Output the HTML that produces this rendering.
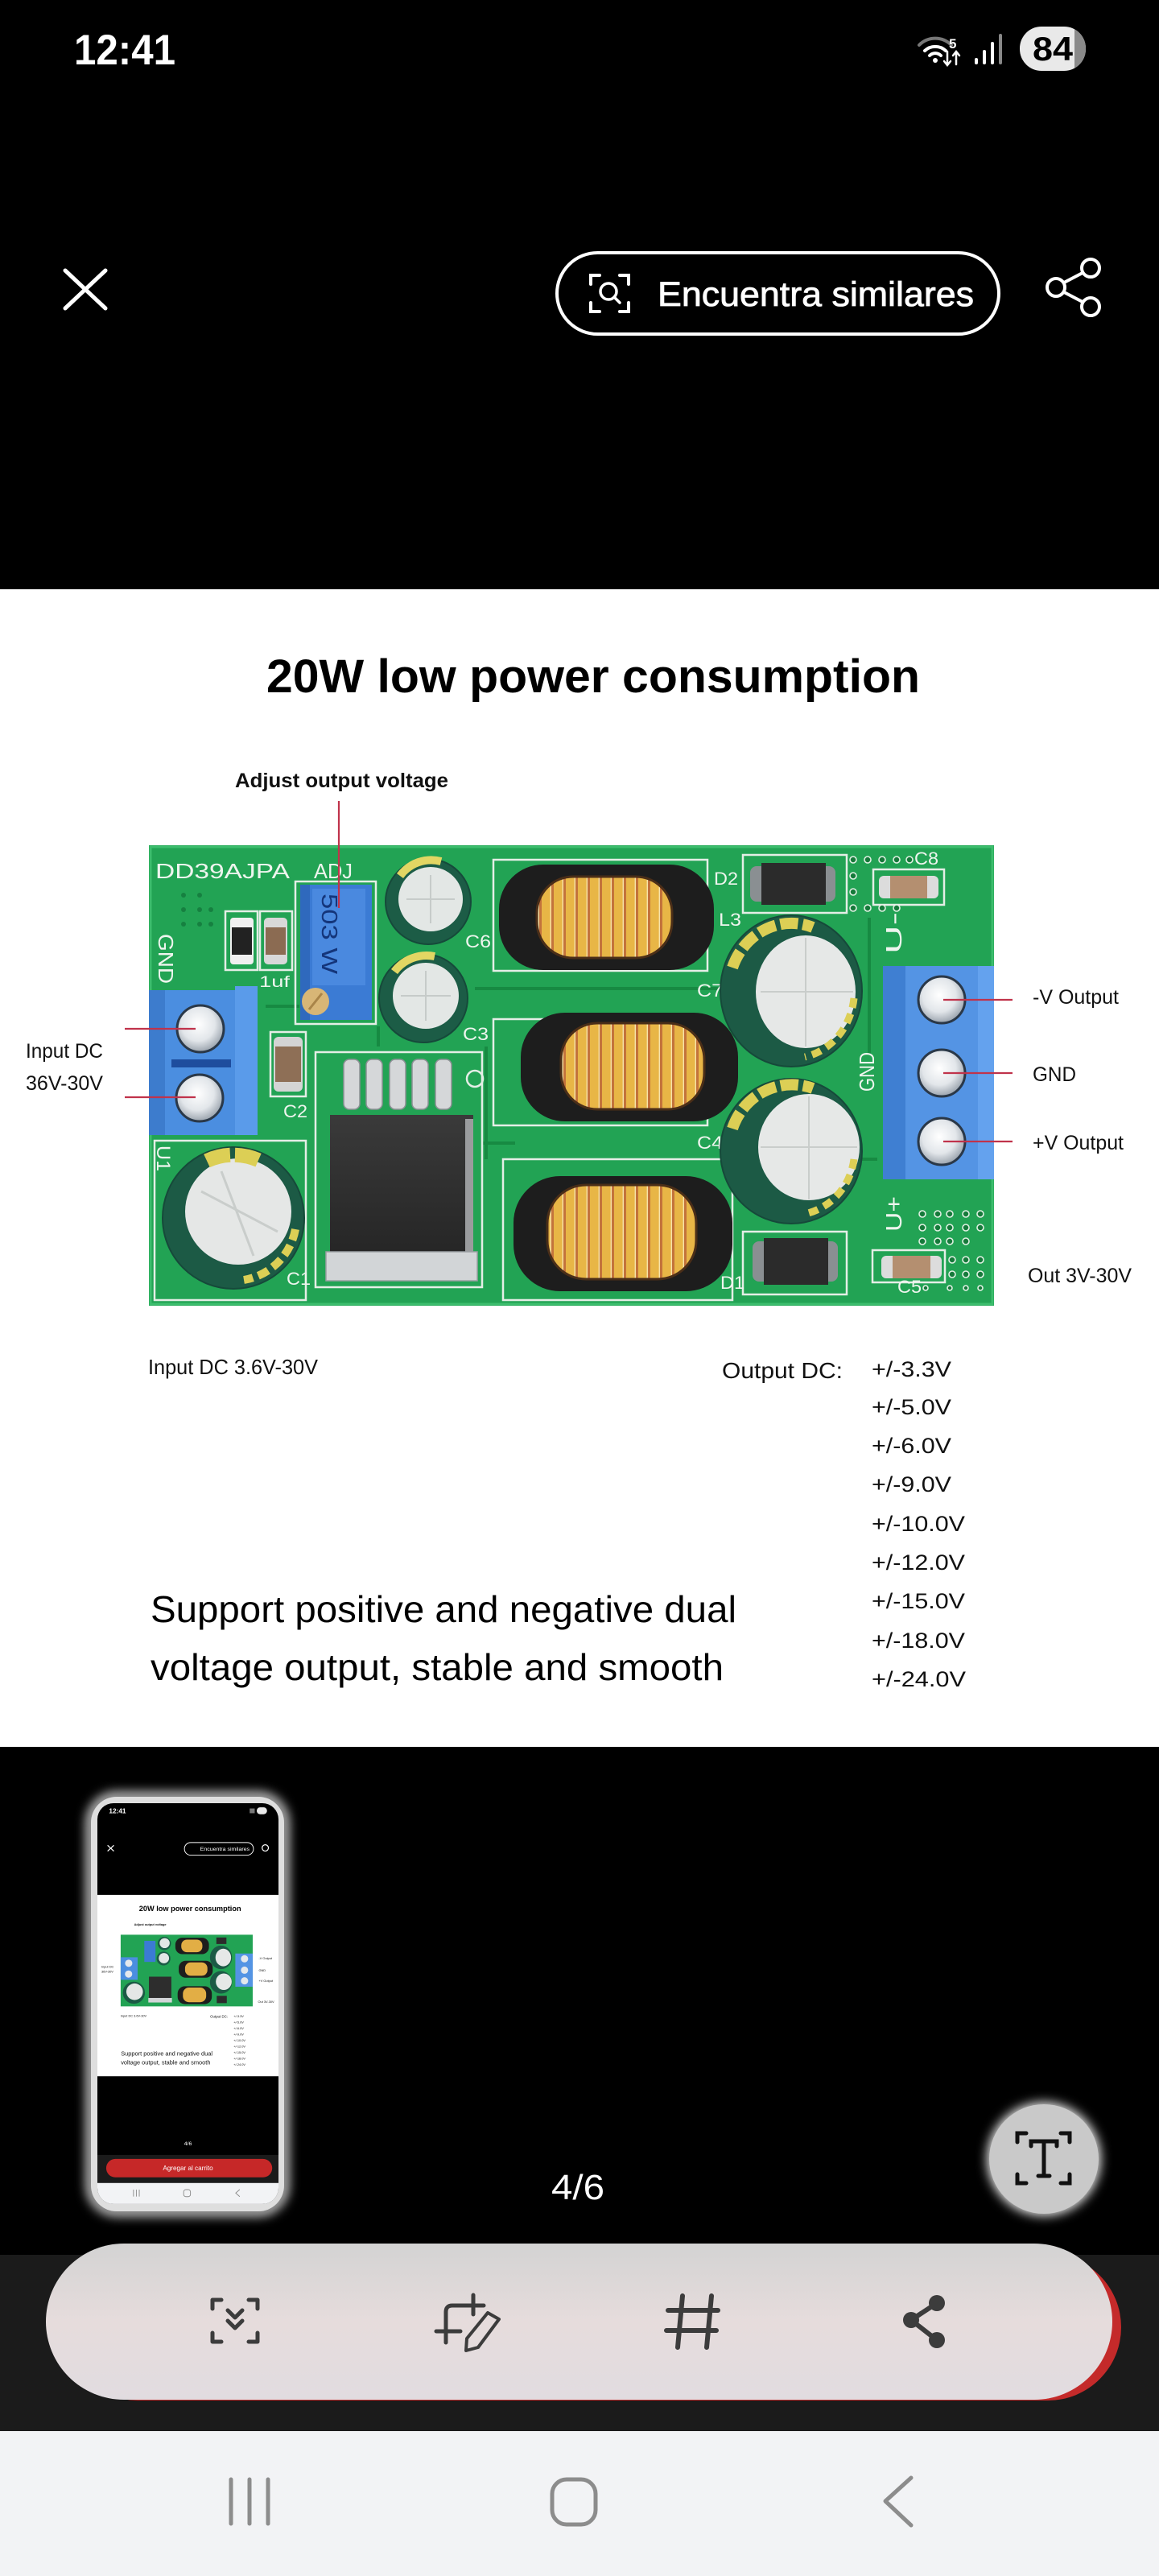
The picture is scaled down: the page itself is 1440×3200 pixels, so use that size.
<!DOCTYPE html>
<html>
<head>
<meta charset="utf-8">
<style>
html,body{margin:0;padding:0;background:#000;}
body{width:1440px;height:3200px;overflow:hidden;}
svg{display:block;}
text{font-family:"Liberation Sans",Arial,sans-serif;}
</style>
</head>
<body>
<svg width="1440" height="3200" viewBox="0 0 1440 3200" xmlns="http://www.w3.org/2000/svg">
<defs>
  <pattern id="coil" width="15" height="20" patternUnits="userSpaceOnUse">
    <rect width="15" height="20" fill="#e8b646"/>
    <rect x="10" width="3" height="20" fill="#c3733b"/>
    <rect x="8.6" width="1.4" height="20" fill="#f7e2a9"/>
  </pattern>
  <radialGradient id="screw" cx="45%" cy="40%" r="60%">
    <stop offset="0" stop-color="#ffffff"/>
    <stop offset="0.6" stop-color="#e2e6ea"/>
    <stop offset="1" stop-color="#9aa3ad"/>
  </radialGradient>
  <linearGradient id="pill" x1="0" y1="0" x2="0" y2="1">
    <stop offset="0" stop-color="#d3d3d3"/>
    <stop offset="0.5" stop-color="#e6dcdc"/>
    <stop offset="1" stop-color="#e1dce0"/>
  </linearGradient>
  <linearGradient id="icb" x1="0" y1="0" x2="0" y2="1">
    <stop offset="0" stop-color="#3a3a3a"/>
    <stop offset="1" stop-color="#262626"/>
  </linearGradient>
  <filter id="glow" x="-30%" y="-30%" width="160%" height="160%">
    <feGaussianBlur stdDeviation="7"/>
  </filter>
  <clipPath id="batclip"><rect x="1267" y="33" width="82" height="55" rx="27"/></clipPath>
  <clipPath id="thumbclip"><rect x="121" y="2240" width="225" height="498" rx="20"/></clipPath>
</defs>

<!-- backgrounds -->
<rect width="1440" height="3200" fill="#000"/>
<rect x="0" y="732" width="1440" height="1438" fill="#fff"/>

<!-- status bar -->
<text x="92" y="80" font-size="53" font-weight="bold" fill="#fff" textLength="126" lengthAdjust="spacingAndGlyphs">12:41</text>
<g fill="none" stroke-linecap="round">
  <path d="M1142,56 A28,28 0 0,1 1182,56" stroke="#777" stroke-width="4"/>
  <path d="M1149,63 A19,19 0 0,1 1175,63" stroke="#fff" stroke-width="4"/>
  <path d="M1155,69 A10,10 0 0,1 1169,69" stroke="#fff" stroke-width="4"/>
  <path d="M1177,64 V80 M1173,76 L1177,81 L1181,76" stroke="#fff" stroke-width="2.5"/>
  <path d="M1188,80 V65 M1184,69 L1188,64 L1192,69" stroke="#fff" stroke-width="2.5"/>
</g>
<circle cx="1162" cy="75" r="3" fill="#fff"/>
<text x="1179" y="60" font-size="17" font-weight="bold" fill="#fff">5</text>
<rect x="1211" y="72" width="4" height="8" rx="2" fill="#fff"/>
<rect x="1221" y="62" width="4" height="18" rx="2" fill="#fff"/>
<rect x="1231" y="52" width="4" height="28" rx="2" fill="#fff"/>
<rect x="1241" y="42" width="4" height="38" rx="2" fill="#888"/>
<rect x="1267" y="33" width="82" height="55" rx="27" fill="#e9e9e9"/>
<rect x="1335" y="33" width="20" height="55" fill="#8a8a8a" clip-path="url(#batclip)"/>
<text x="1283" y="75" font-size="42" font-weight="bold" fill="#000" textLength="50" lengthAdjust="spacingAndGlyphs">84</text>

<!-- header row -->
<path d="M81,336 L131,383 M131,336 L81,383" stroke="#fff" stroke-width="5" stroke-linecap="round"/>
<rect x="692" y="314" width="549" height="101" rx="50.5" fill="none" stroke="#fff" stroke-width="4"/>
<g fill="none" stroke="#fff" stroke-width="4" stroke-linecap="round">
  <path d="M734,353 V342 H745 M770,342 H781 V353 M781,376 V387 H770 M745,387 H734 V376"/>
  <circle cx="756" cy="362" r="10" stroke-width="3.5"/>
  <path d="M763,369 L770,376" stroke-width="3.5"/>
</g>
<text x="817" y="380" font-size="43" fill="#fff" stroke="#fff" stroke-width="0.8" textLength="393" lengthAdjust="spacingAndGlyphs">Encuentra similares</text>
<g fill="none" stroke="#fff" stroke-width="4">
  <circle cx="1355" cy="333" r="11"/>
  <circle cx="1312" cy="357" r="11"/>
  <circle cx="1355" cy="381" r="11"/>
  <path d="M1345,339 L1322,351 M1322,363 L1345,375"/>
</g>

<!-- product image content -->
<text x="331" y="860" font-size="58" font-weight="bold" fill="#000" textLength="812" lengthAdjust="spacingAndGlyphs">20W low power consumption</text>
<text x="292" y="978" font-size="25" font-weight="bold" fill="#111" textLength="265" lengthAdjust="spacingAndGlyphs">Adjust output voltage</text>

<!-- PCB -->
<g>
  <rect x="185" y="1050" width="1050" height="572" fill="#22a354"/>
  <rect x="187" y="1052" width="1046" height="568" fill="none" stroke="#3cbd6d" stroke-width="3"/>
  <g stroke="#178a42" stroke-width="4" fill="none">
    <path d="M590,1228 H900"/>
    <path d="M604,1300 V1440"/>
    <path d="M905,1440 H1090"/>
    <path d="M330,1250 H372"/>
    <path d="M600,1420 H640"/>
    <path d="M1080,1140 V1310"/>
    <path d="M470,1275 V1300"/>
  </g>
  <!-- silkscreen outlines -->
  <g stroke="#e4eee6" stroke-width="2.5" fill="none">
    <rect x="613" y="1068" width="266" height="138"/>
    <rect x="613" y="1266" width="266" height="132"/>
    <rect x="625" y="1440" width="285" height="175"/>
    <rect x="392" y="1307" width="207" height="292"/>
    <rect x="923" y="1062" width="129" height="72"/>
    <rect x="923" y="1530" width="129" height="78"/>
    <rect x="1085" y="1080" width="88" height="44"/>
    <rect x="1084" y="1553" width="90" height="40"/>
    <rect x="336" y="1282" width="44" height="80"/>
    <rect x="192" y="1417" width="188" height="198"/>
    <rect x="280" y="1132" width="40" height="73"/>
    <rect x="323" y="1132" width="40" height="73"/>
    <rect x="367" y="1095" width="100" height="177"/>
  </g>
  <!-- vias left -->
  <g fill="#168040">
    <circle cx="228" cy="1112" r="3"/><circle cx="248" cy="1112" r="3"/>
    <circle cx="228" cy="1130" r="3"/><circle cx="248" cy="1130" r="3"/><circle cx="262" cy="1130" r="3"/>
    <circle cx="228" cy="1148" r="3"/><circle cx="248" cy="1148" r="3"/><circle cx="262" cy="1148" r="3"/>
  </g>
  <!-- hole grids -->
  <g fill="#157a3a" stroke="#e2f0e4" stroke-width="1.6">
    <circle cx="1060" cy="1068" r="4"/><circle cx="1078" cy="1068" r="4"/><circle cx="1096" cy="1068" r="4"/><circle cx="1114" cy="1068" r="4"/><circle cx="1130" cy="1068" r="4"/>
    <circle cx="1060" cy="1088" r="4"/><circle cx="1060" cy="1108" r="4"/><circle cx="1060" cy="1128" r="4"/>
    <circle cx="1078" cy="1128" r="4"/><circle cx="1096" cy="1128" r="4"/><circle cx="1114" cy="1128" r="4"/>
    <circle cx="1146" cy="1508" r="4"/><circle cx="1165" cy="1508" r="4"/><circle cx="1180" cy="1508" r="4"/><circle cx="1200" cy="1508" r="4"/><circle cx="1218" cy="1508" r="4"/>
    <circle cx="1146" cy="1525" r="4"/><circle cx="1165" cy="1525" r="4"/><circle cx="1180" cy="1525" r="4"/><circle cx="1200" cy="1525" r="4"/><circle cx="1218" cy="1525" r="4"/>
    <circle cx="1146" cy="1542" r="4"/><circle cx="1165" cy="1542" r="4"/><circle cx="1180" cy="1542" r="4"/><circle cx="1200" cy="1542" r="4"/>
    <circle cx="1183" cy="1565" r="4"/><circle cx="1200" cy="1565" r="4"/><circle cx="1218" cy="1565" r="4"/>
    <circle cx="1183" cy="1583" r="4"/><circle cx="1200" cy="1583" r="4"/><circle cx="1218" cy="1583" r="4"/>
    <circle cx="1150" cy="1600" r="3"/><circle cx="1180" cy="1600" r="3"/><circle cx="1200" cy="1600" r="3"/><circle cx="1218" cy="1600" r="3"/>
  </g>
  <!-- silkscreen text -->
  <g fill="#eef5ee" font-size="26">
    <text x="193" y="1091" textLength="167" lengthAdjust="spacingAndGlyphs">DD39AJPA</text>
    <text x="390" y="1091" textLength="48" lengthAdjust="spacingAndGlyphs">ADJ</text>
    <text x="322" y="1226" font-size="19" textLength="38" lengthAdjust="spacingAndGlyphs">1uf</text>
    <text x="578" y="1177" font-size="22" textLength="32" lengthAdjust="spacingAndGlyphs">C6</text>
    <text x="575" y="1292" font-size="22" textLength="32" lengthAdjust="spacingAndGlyphs">C3</text>
    <text x="352" y="1388" font-size="22" textLength="30" lengthAdjust="spacingAndGlyphs">C2</text>
    <text x="356" y="1596" font-size="22" textLength="30" lengthAdjust="spacingAndGlyphs">C1</text>
    <text x="887" y="1099" font-size="22" textLength="30" lengthAdjust="spacingAndGlyphs">D2</text>
    <text x="893" y="1150" font-size="22" textLength="28" lengthAdjust="spacingAndGlyphs">L3</text>
    <text x="866" y="1238" font-size="22" textLength="32" lengthAdjust="spacingAndGlyphs">C7</text>
    <text x="866" y="1427" font-size="22" textLength="32" lengthAdjust="spacingAndGlyphs">C4</text>
    <text x="895" y="1601" font-size="22" textLength="30" lengthAdjust="spacingAndGlyphs">D1</text>
    <text x="1115" y="1606" font-size="22" textLength="30" lengthAdjust="spacingAndGlyphs">C5</text>
    <text x="1136" y="1074" font-size="22" textLength="30" lengthAdjust="spacingAndGlyphs">C8</text>
    <text transform="translate(197,1160) rotate(90)" font-size="26" textLength="62" lengthAdjust="spacingAndGlyphs">GND</text>
    <text transform="translate(195,1423) rotate(90)" font-size="24" textLength="32" lengthAdjust="spacingAndGlyphs">U1</text>
    <text transform="translate(1086,1356) rotate(-90)" font-size="26" textLength="49" lengthAdjust="spacingAndGlyphs">GND</text>
    <text transform="translate(1120,1185) rotate(-90)" font-size="28" textLength="52" lengthAdjust="spacingAndGlyphs">U-</text>
    <text transform="translate(1120,1530) rotate(-90)" font-size="28" textLength="44" lengthAdjust="spacingAndGlyphs">U+</text>
  </g>

  <!-- left terminal block -->
  <rect x="185" y="1230" width="135" height="180" fill="#4b8ee0"/>
  <rect x="185" y="1230" width="20" height="180" fill="#3d7ccd"/>
  <rect x="292" y="1225" width="28" height="185" fill="#5a9bea"/>
  <rect x="213" y="1316" width="74" height="10" fill="#1e4d9e"/>
  <circle cx="249" cy="1278" r="29" fill="url(#screw)" stroke="#2a3848" stroke-width="3"/>
  <circle cx="248" cy="1364" r="29" fill="url(#screw)" stroke="#2a3848" stroke-width="3"/>

  <!-- right terminal block -->
  <rect x="1097" y="1200" width="138" height="265" fill="#5494e4"/>
  <rect x="1097" y="1200" width="28" height="265" fill="#3f7fd2"/>
  <rect x="1215" y="1200" width="20" height="265" fill="#64a2ee"/>
  <circle cx="1170" cy="1242" r="29" fill="url(#screw)" stroke="#2a3848" stroke-width="3"/>
  <circle cx="1170" cy="1333" r="29" fill="url(#screw)" stroke="#2a3848" stroke-width="3"/>
  <circle cx="1170" cy="1418" r="29" fill="url(#screw)" stroke="#2a3848" stroke-width="3"/>

  <!-- potentiometer -->
  <rect x="373" y="1099" width="89" height="168" fill="#3b7bd4"/>
  <rect x="373" y="1099" width="12" height="168" fill="#2f69bd"/>
  <rect x="388" y="1104" width="66" height="120" fill="#4a89df"/>
  <text transform="translate(400,1110) rotate(90)" font-size="28" fill="#14357a" textLength="100" lengthAdjust="spacingAndGlyphs">503 W</text>
  <circle cx="392" cy="1244" r="17" fill="#d8b676"/>
  <path d="M384,1254 L400,1234" stroke="#a98448" stroke-width="3"/>

  <!-- small SMDs -->
  <rect x="286" y="1140" width="29" height="58" rx="4" fill="#f0f0f0"/>
  <rect x="288" y="1152" width="25" height="34" fill="#222"/>
  <rect x="328" y="1140" width="29" height="58" rx="5" fill="#d8d8d8"/>
  <rect x="330" y="1152" width="25" height="34" fill="#8b6b52"/>
  <rect x="340" y="1288" width="36" height="68" rx="6" fill="#d4d4d4"/>
  <rect x="342" y="1300" width="32" height="44" fill="#8e6f56"/>

  <!-- caps C6 C3 -->
  <circle cx="532" cy="1120" r="53" fill="#1c5c46" stroke="#16493a" stroke-width="2"/>
  <circle cx="535" cy="1117" r="40" fill="#e3e7e5"/>
  <path d="M505,1117 H565 M535,1087 V1147" stroke="#c6cbc9" stroke-width="2"/>
  <path d="M497,1088 A48,48 0 0,1 548,1070" stroke="#e2d663" stroke-width="10" fill="none"/>
  <circle cx="526" cy="1240" r="55" fill="#1c5c46" stroke="#16493a" stroke-width="2"/>
  <circle cx="529" cy="1237" r="41" fill="#e3e7e5"/>
  <path d="M498,1237 H560 M529,1206 V1268" stroke="#c6cbc9" stroke-width="2"/>
  <path d="M490,1207 A50,50 0 0,1 540,1188" stroke="#e2d663" stroke-width="10" fill="none"/>

  <!-- C1 -->
  <circle cx="290" cy="1513" r="88" fill="#1c5a45" stroke="#16493a" stroke-width="2"/>
  <circle cx="296" cy="1505" r="66" fill="#e5e7e6"/>
  <path d="M250,1480 L345,1530 M275,1455 L315,1560" stroke="#c9cdcb" stroke-width="3"/>
  <path d="M257,1442 A78,78 0 0,1 323,1442" stroke="#dccf55" stroke-width="18" fill="none" stroke-dasharray="30 6"/>
  <path d="M367,1527 A78,78 0 0,1 303,1590" stroke="#dccf55" stroke-width="10" fill="none" stroke-dasharray="14 7"/>

  <!-- inductors -->
  <rect x="620" y="1074" width="267" height="131" rx="55" fill="#1d1d1d"/>
  <rect x="667" y="1089" width="168" height="101" rx="45" fill="url(#coil)" stroke="#4a2e18" stroke-width="3"/>
  <rect x="647" y="1258" width="270" height="135" rx="55" fill="#1d1d1d"/>
  <rect x="697" y="1271" width="178" height="107" rx="45" fill="url(#coil)" stroke="#4a2e18" stroke-width="3"/>
  <rect x="638" y="1461" width="272" height="143" rx="58" fill="#1d1d1d"/>
  <rect x="680" y="1472" width="185" height="117" rx="48" fill="url(#coil)" stroke="#4a2e18" stroke-width="3"/>

  <!-- IC U1 -->
  <g fill="#d5d7d9" stroke="#8c9094" stroke-width="1.5">
    <rect x="427" y="1316" width="20" height="62" rx="7"/>
    <rect x="455" y="1316" width="20" height="62" rx="7"/>
    <rect x="484" y="1316" width="20" height="62" rx="7"/>
    <rect x="512" y="1316" width="20" height="62" rx="7"/>
    <rect x="541" y="1316" width="20" height="62" rx="7"/>
  </g>
  <rect x="410" y="1385" width="178" height="172" fill="url(#icb)"/>
  <rect x="578" y="1390" width="10" height="165" fill="#9a9c9e"/>
  <rect x="405" y="1555" width="188" height="36" fill="#d2d5d7" stroke="#9a9ea2" stroke-width="1.5"/>
  <circle cx="590" cy="1340" r="10" fill="none" stroke="#e4eee6" stroke-width="2.5"/>

  <!-- C7, C4 -->
  <ellipse cx="983" cy="1231" rx="88" ry="94" fill="#1c5a45" stroke="#16493a" stroke-width="2"/>
  <ellipse cx="1001" cy="1232" rx="62" ry="70" fill="#e6e8e7"/>
  <path d="M945,1232 H1060 M1001,1165 V1300" stroke="#c9cdcb" stroke-width="2"/>
  <path d="M910,1202 A78,84 0 0,1 1010,1152" stroke="#dccf55" stroke-width="14" fill="none" stroke-dasharray="22 6"/>
  <path d="M1061,1240 A78,84 0 0,1 1000,1313" stroke="#dccf55" stroke-width="9" fill="none" stroke-dasharray="12 8"/>
  <ellipse cx="983" cy="1430" rx="88" ry="90" fill="#1c5a45" stroke="#16493a" stroke-width="2"/>
  <ellipse cx="1005" cy="1425" rx="63" ry="66" fill="#e6e8e7"/>
  <path d="M945,1425 H1065 M1005,1362 V1490" stroke="#c9cdcb" stroke-width="2"/>
  <path d="M910,1402 A78,80 0 0,1 1010,1352" stroke="#dccf55" stroke-width="14" fill="none" stroke-dasharray="22 6"/>
  <path d="M1061,1440 A78,80 0 0,1 1000,1508" stroke="#dccf55" stroke-width="9" fill="none" stroke-dasharray="12 8"/>

  <!-- diodes -->
  <rect x="932" y="1076" width="106" height="44" rx="8" fill="#8a8f92"/>
  <rect x="946" y="1072" width="80" height="52" fill="#2b2b2b"/>
  <rect x="935" y="1542" width="106" height="50" rx="8" fill="#8a8f92"/>
  <rect x="949" y="1538" width="80" height="58" fill="#2b2b2b"/>

  <!-- C8, C5 -->
  <rect x="1092" y="1088" width="74" height="28" rx="6" fill="#dcdcdc"/>
  <rect x="1106" y="1088" width="46" height="28" fill="#b48f70"/>
  <rect x="1095" y="1560" width="75" height="28" rx="6" fill="#dcdcdc"/>
  <rect x="1109" y="1560" width="47" height="28" fill="#b48f70"/>
</g>

<!-- leader lines -->
<g stroke="#c0334b" stroke-width="2.2">
  <path d="M421,995 V1128"/>
  <path d="M155,1278 H243"/>
  <path d="M155,1363 H243"/>
  <path d="M1172,1242 H1258"/>
  <path d="M1172,1333 H1258"/>
  <path d="M1172,1418 H1258"/>
</g>

<!-- labels -->
<g fill="#111" font-size="25">
  <text x="32" y="1314" textLength="96" lengthAdjust="spacingAndGlyphs">Input DC</text>
  <text x="32" y="1354" textLength="96" lengthAdjust="spacingAndGlyphs">36V-30V</text>
  <text x="1283" y="1247" textLength="107" lengthAdjust="spacingAndGlyphs">-V Output</text>
  <text x="1283" y="1343" textLength="54" lengthAdjust="spacingAndGlyphs">GND</text>
  <text x="1283" y="1428" textLength="113" lengthAdjust="spacingAndGlyphs">+V Output</text>
  <text x="1277" y="1593" textLength="129" lengthAdjust="spacingAndGlyphs">Out 3V-30V</text>
  <text x="184" y="1707" font-size="26" textLength="211" lengthAdjust="spacingAndGlyphs">Input DC 3.6V-30V</text>
  <text x="897" y="1712" font-size="28" textLength="150" lengthAdjust="spacingAndGlyphs">Output DC:</text>
  <text x="1083" y="1710" font-size="27" textLength="99" lengthAdjust="spacingAndGlyphs">+/-3.3V</text>
  <text x="1083" y="1757" font-size="27" textLength="99" lengthAdjust="spacingAndGlyphs">+/-5.0V</text>
  <text x="1083" y="1805" font-size="27" textLength="99" lengthAdjust="spacingAndGlyphs">+/-6.0V</text>
  <text x="1083" y="1853" font-size="27" textLength="99" lengthAdjust="spacingAndGlyphs">+/-9.0V</text>
  <text x="1083" y="1902" font-size="27" textLength="116" lengthAdjust="spacingAndGlyphs">+/-10.0V</text>
  <text x="1083" y="1950" font-size="27" textLength="116" lengthAdjust="spacingAndGlyphs">+/-12.0V</text>
  <text x="1083" y="1998" font-size="27" textLength="116" lengthAdjust="spacingAndGlyphs">+/-15.0V</text>
  <text x="1083" y="2047" font-size="27" textLength="116" lengthAdjust="spacingAndGlyphs">+/-18.0V</text>
  <text x="1083" y="2095" font-size="27" textLength="117" lengthAdjust="spacingAndGlyphs">+/-24.0V</text>
  <text x="187" y="2015" font-size="46" fill="#000" textLength="728" lengthAdjust="spacingAndGlyphs">Support positive and negative dual</text>
  <text x="187" y="2087" font-size="46" fill="#000" textLength="712" lengthAdjust="spacingAndGlyphs">voltage output, stable and smooth</text>
</g>

<!-- thumbnail phone -->
<rect x="113" y="2232" width="240" height="515" rx="32" fill="none" stroke="#fff" stroke-width="10" filter="url(#glow)"/>
<rect x="113" y="2232" width="240" height="515" rx="32" fill="#dedede"/>
<g clip-path="url(#thumbclip)">
 <g transform="translate(121,2240) scale(0.15625,0.1556)">
  <rect width="1440" height="3200" fill="#000"/>
  <rect y="732" width="1440" height="1448" fill="#fff"/>
  <text x="92" y="80" font-size="53" font-weight="bold" fill="#fff">12:41</text>
  <rect x="1267" y="33" width="82" height="55" rx="27" fill="#e9e9e9"/>
  <rect x="1211" y="42" width="40" height="38" fill="#777"/>
  <path d="M81,336 L131,383 M131,336 L81,383" stroke="#fff" stroke-width="8"/>
  <rect x="692" y="314" width="549" height="101" rx="50" fill="none" stroke="#fff" stroke-width="6"/>
  <text x="817" y="380" font-size="43" fill="#fff" textLength="393" lengthAdjust="spacingAndGlyphs">Encuentra similares</text>
  <circle cx="1335" cy="357" r="25" fill="none" stroke="#fff" stroke-width="8"/>
  <text x="331" y="860" font-size="58" font-weight="bold" fill="#000" textLength="812" lengthAdjust="spacingAndGlyphs">20W low power consumption</text>
  <text x="292" y="978" font-size="25" font-weight="bold" fill="#111">Adjust output voltage</text>
  <rect x="185" y="1050" width="1050" height="572" fill="#22a354"/>
  <rect x="185" y="1230" width="135" height="180" fill="#4b8ee0"/>
  <rect x="1097" y="1200" width="138" height="265" fill="#5494e4"/>
  <circle cx="249" cy="1278" r="29" fill="#e4e8ec"/>
  <circle cx="248" cy="1364" r="29" fill="#e4e8ec"/>
  <circle cx="1170" cy="1242" r="29" fill="#e4e8ec"/>
  <circle cx="1170" cy="1333" r="29" fill="#e4e8ec"/>
  <circle cx="1170" cy="1418" r="29" fill="#e4e8ec"/>
  <rect x="373" y="1099" width="89" height="168" fill="#3b7bd4"/>
  <circle cx="532" cy="1120" r="53" fill="#1c5c46"/><circle cx="535" cy="1117" r="40" fill="#e3e7e5"/>
  <circle cx="526" cy="1240" r="55" fill="#1c5c46"/><circle cx="529" cy="1237" r="41" fill="#e3e7e5"/>
  <circle cx="290" cy="1513" r="88" fill="#1c5a45"/><circle cx="296" cy="1505" r="66" fill="#e5e7e6"/>
  <ellipse cx="983" cy="1231" rx="88" ry="94" fill="#1c5a45"/><ellipse cx="1001" cy="1232" rx="62" ry="70" fill="#e6e8e7"/>
  <ellipse cx="983" cy="1430" rx="88" ry="90" fill="#1c5a45"/><ellipse cx="1005" cy="1425" rx="63" ry="66" fill="#e6e8e7"/>
  <rect x="620" y="1074" width="267" height="131" rx="55" fill="#1d1d1d"/>
  <rect x="667" y="1089" width="168" height="101" rx="45" fill="#e2ae45"/>
  <rect x="647" y="1258" width="270" height="135" rx="55" fill="#1d1d1d"/>
  <rect x="697" y="1271" width="178" height="107" rx="45" fill="#e2ae45"/>
  <rect x="638" y="1461" width="272" height="143" rx="58" fill="#1d1d1d"/>
  <rect x="680" y="1472" width="185" height="117" rx="48" fill="#e2ae45"/>
  <rect x="410" y="1385" width="178" height="172" fill="#2d2d2d"/>
  <rect x="405" y="1555" width="188" height="36" fill="#d2d5d7"/>
  <rect x="946" y="1072" width="80" height="52" fill="#2b2b2b"/>
  <rect x="949" y="1538" width="80" height="58" fill="#2b2b2b"/>
  <g fill="#111" font-size="25">
    <text x="32" y="1314">Input DC</text>
    <text x="32" y="1354">36V-30V</text>
    <text x="1283" y="1247">-V Output</text>
    <text x="1283" y="1343">GND</text>
    <text x="1283" y="1428">+V Output</text>
    <text x="1277" y="1593">Out 3V-30V</text>
    <text x="184" y="1707">Input DC 3.6V-30V</text>
    <text x="897" y="1712" font-size="28">Output DC:</text>
    <text x="1083" y="1710">+/-3.3V</text>
    <text x="1083" y="1757">+/-5.0V</text>
    <text x="1083" y="1805">+/-6.0V</text>
    <text x="1083" y="1853">+/-9.0V</text>
    <text x="1083" y="1902">+/-10.0V</text>
    <text x="1083" y="1950">+/-12.0V</text>
    <text x="1083" y="1998">+/-15.0V</text>
    <text x="1083" y="2047">+/-18.0V</text>
    <text x="1083" y="2095">+/-24.0V</text>
    <text x="187" y="2015" font-size="46" textLength="728" lengthAdjust="spacingAndGlyphs">Support positive and negative dual</text>
    <text x="187" y="2087" font-size="46" textLength="712" lengthAdjust="spacingAndGlyphs">voltage output, stable and smooth</text>
  </g>
  <text x="720" y="2732" font-size="44" fill="#fff" text-anchor="middle">4/6</text>
  <rect y="2808" width="1440" height="224" fill="#1b1b1b"/>
  <rect x="70" y="2840" width="1320" height="147" rx="73" fill="#c62828"/>
  <text x="720" y="2930" font-size="52" fill="#fff" text-anchor="middle">Agregar al carrito</text>
  <rect y="3032" width="1440" height="168" fill="#f2f3f5"/>
  <g stroke="#8c8c8c" stroke-width="6" fill="none">
    <path d="M287,3085 V3140 M310,3085 V3140 M333,3085 V3140"/>
    <rect x="686" y="3085" width="54" height="56" rx="18"/>
    <path d="M1132,3084 L1100,3112 L1132,3141"/>
  </g>
 </g>
</g>

<!-- page indicator -->
<text x="718" y="2732" font-size="44" fill="#fff" text-anchor="middle" textLength="66" lengthAdjust="spacingAndGlyphs">4/6</text>

<!-- OCR button -->
<circle cx="1297" cy="2682" r="70" fill="#fff" filter="url(#glow)"/>
<circle cx="1297" cy="2682" r="68" fill="#c9c9c9"/>
<g fill="none" stroke="#111" stroke-width="5" stroke-linecap="round">
  <path d="M1264,2661 V2650 H1275 M1318,2650 H1329 V2661 M1329,2701 V2712 H1318 M1275,2712 H1264 V2701"/>
  <path d="M1281,2666 V2660 H1313 V2666 M1297,2660 V2703 M1290,2703 H1304"/>
</g>

<!-- bottom toolbar area -->
<rect x="0" y="2801" width="1440" height="219" fill="#1b1b1b"/>
<rect x="80" y="2800" width="1313" height="182" rx="91" fill="#c42a2a"/>
<rect x="57" y="2787" width="1325" height="194" rx="97" fill="url(#pill)"/>
<g fill="none" stroke="#3c3c3c" stroke-width="5" stroke-linecap="round" stroke-linejoin="round">
  <path d="M264,2868 V2857 H275 M309,2857 H320 V2868 M320,2898 V2909 H309 M275,2909 H264 V2898"/>
  <path d="M283,2870 L292,2879 L301,2870 M283,2883 L292,2892 L301,2883"/>
  <path d="M554,2910 V2872 Q554,2864 562,2864 H601 M588,2851 V2875 M542,2896 H572"/>
  <path d="M606,2873 L620,2881 L594,2916 L579,2920 L580,2905 Z" stroke-width="4"/>
  <path d="M848,2852 L842,2916 M884,2852 L878,2916 M830,2870 H892 M828,2895 H890" stroke-width="6"/>
  <path d="M1164,2861 L1132,2882 L1164,2907" stroke-width="6"/>
</g>
<g fill="#3c3c3c">
  <circle cx="1164" cy="2861" r="10"/>
  <circle cx="1132" cy="2882" r="10"/>
  <circle cx="1164" cy="2907" r="10"/>
</g>

<!-- nav bar -->
<rect x="0" y="3020" width="1440" height="180" fill="#f2f3f5"/>
<g stroke="#8c8c8c" stroke-width="5" fill="none" stroke-linecap="round">
  <path d="M287,3080 V3135 M310,3080 V3135 M333,3080 V3135"/>
  <rect x="686" y="3080" width="54" height="56" rx="18"/>
  <path d="M1132,3078 L1100,3107 L1132,3137" stroke-linejoin="round"/>
</g>
</svg>
</body>
</html>
